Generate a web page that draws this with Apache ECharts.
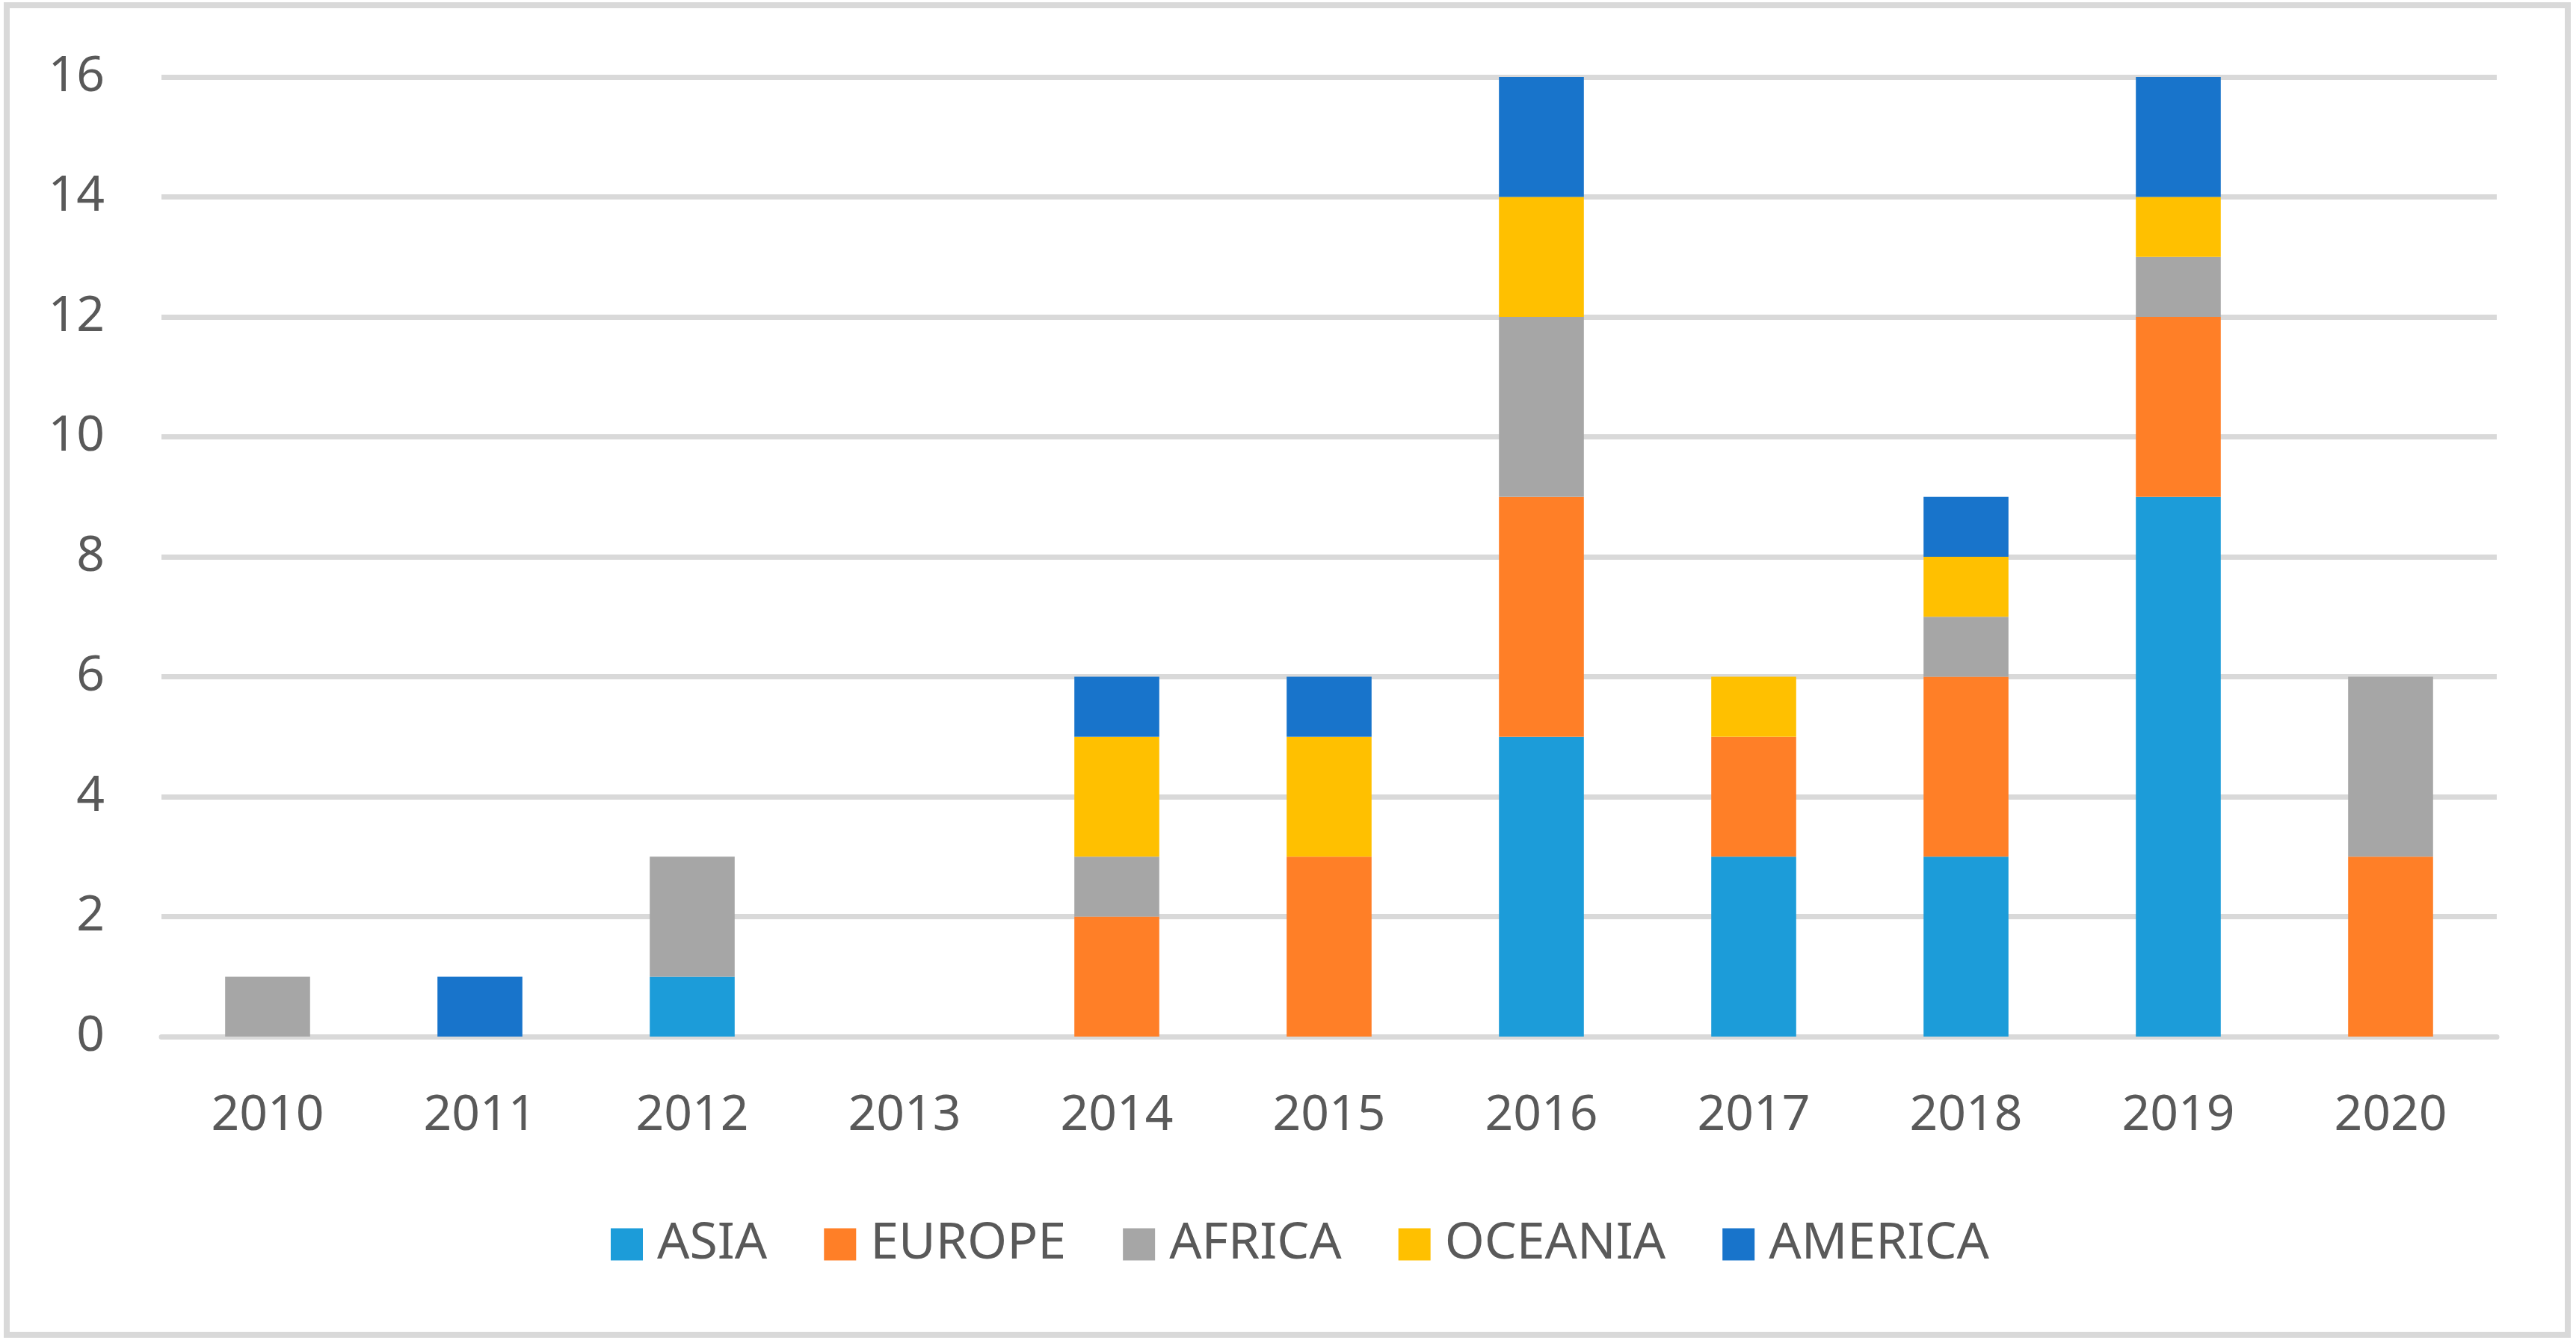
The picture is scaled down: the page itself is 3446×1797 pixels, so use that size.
<!DOCTYPE html>
<html>
<head>
<meta charset="utf-8">
<script src="https://cdn.jsdelivr.net/npm/echarts@6/dist/echarts.min.js"></script>
<style>
html,body{margin:0;padding:0;background:#fff;}
#c{width:3446px;height:1797px;}
</style>
</head>
<body>
<div id="c"></div>
<script>
const years = ['2010','2011','2012','2013','2014','2015','2016','2017','2018','2019','2020'];
const asia    = [0,0,1,0,0,0,5,3,3,9,0];
const europe  = [0,0,0,0,2,3,4,2,3,3,3];
const africa  = [1,0,2,0,1,0,3,0,1,1,3];
const oceania = [0,0,0,0,2,2,2,1,1,1,0];
const america = [0,1,0,0,1,1,2,0,1,2,0];
const yTicks = [0,2,4,6,8,10,12,14,16];

const seriesNames = ['ASIA','EUROPE','AFRICA','OCEANIA','AMERICA'];
const seriesData = [asia, europe, africa, oceania, america];
const colors = ['#1c9cd9','#ff7f27','#a6a6a6','#ffc000','#1874cb'];

const chart = echarts.init(document.getElementById('c'));
const font = 'Noto Sans';
chart.setOption({
  animation: false,
  backgroundColor: '#fff',
  color: colors,
  graphic: [{
    type: 'rect',
    shape: {x: 9, y: 7, width: 3426, height: 1779},
    style: {fill: 'none', stroke: '#d9d9d9', lineWidth: 8},
    silent: true
  }],
  grid: {left: 216, right: 106, top: 103, bottom: 410, containLabel: false},
  legend: {
    data: seriesNames,
    left: 812,
    top: 1626,
    itemWidth: 43,
    itemHeight: 43,
    itemGap: 76,
    icon: 'rect',
    textStyle: {fontFamily: font, fontSize: 68, color: '#595959', padding: [0,0,0,14]}
  },
  xAxis: {
    type: 'category',
    data: years,
    axisLine: {show: true, lineStyle: {color: '#d9d9d9', width: 7}},
    axisTick: {show: false},
    axisLabel: {fontFamily: font, fontSize: 66, color: '#595959', margin: 73}
  },
  yAxis: {
    type: 'value',
    min: 0, max: 16, interval: 2,
    axisLine: {show: false},
    axisTick: {show: false},
    splitLine: {lineStyle: {color: '#d9d9d9', width: 7}},
    axisLabel: {fontFamily: font, fontSize: 66, color: '#595959', margin: 76,
      formatter: v => yTicks.includes(v) ? String(v) : ''}
  },
  series: seriesNames.map((n, i) => ({
    name: n,
    type: 'bar',
    stack: 'total',
    barWidth: '40%',
    data: seriesData[i],
    itemStyle: {color: colors[i]}
  }))
});
</script>
</body>
</html>
